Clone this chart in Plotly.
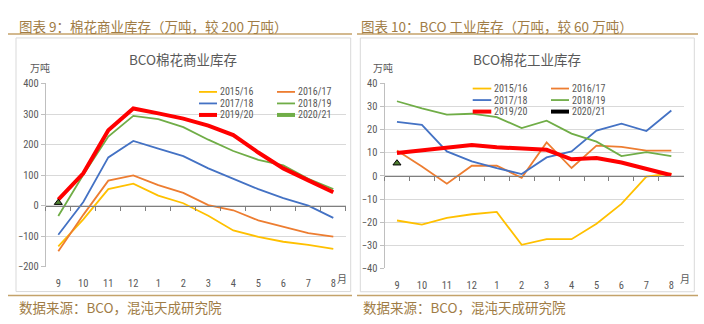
import plotly.graph_objects as go

W, H = 704, 324

months = ["9", "10", "11", "12", "1", "2", "3", "4", "5", "6", "7", "8"]
seasons = ["2015/16", "2016/17", "2017/18", "2018/19", "2019/20", "2020/21"]

# BCO commercial stocks (10k t)
comm_1516 = [-133, -45, 54, 72, 33, 8, -33, -81, -102, -118, -128, -141]
comm_1617 = [-149, -30, 82, 99, 67, 42, 2, -15, -48, -69, -90, -101]
comm_1718 = [-95, 12, 158, 212, 187, 162, 122, 87, 54, 25, 0, -40]
comm_1819 = [-34, 101, 226, 294, 283, 257, 216, 179, 150, 132, 88, 54]
comm_1920 = [20, 106, 247, 318, 302, 285, 262, 231, 174, 122, 83, 44]
comm_2021 = [10]

# BCO mill stocks (10k t)
ind_1516 = [-19.3, -21.1, -18.2, -16.6, -15.6, -29.8, -27.4, -27.4, -20.7, -12.1, -0.3, 1.1]
ind_1617 = [11.0, 4.1, -3.4, 4.4, 4.4, -0.8, 14.5, 3.4, 13.1, 12.6, 10.9, 10.9]
ind_1718 = [23.4, 22.1, 10.6, 6.3, 3.4, 0.8, 8.0, 10.6, 19.6, 22.6, 19.4, 28.3]
ind_1819 = [32.3, 29.2, 26.5, 26.9, 25.4, 20.7, 23.9, 18.3, 14.8, 8.6, 10.3, 8.6]
ind_1920 = [9.9, 11.0, 12.4, 13.4, 12.4, 12.0, 11.3, 7.2, 7.7, 5.8, 3.0, 0.3]
ind_2021 = [5.5]

panel_titles = ["图表 9：棉花商业库存（万吨，较 200 万吨）", "图表 10：BCO 工业库存（万吨，较 60 万吨）"]
chart_titles = ["BCO棉花商业库存", "BCO棉花工业库存"]
source_text = "数据来源：BCO，混沌天成研究院"
unit_text = "万吨"
month_suffix = "月"

YELLOW, ORANGE, BLUE, GREEN, RED = "#FFC000", "#ED7D31", "#4472C4", "#70AD47", "#FF0000"
GOLD_TEXT, GOLD_LINE = "#A07C45", "#C4A26A"
GRAY_TXT, GRID = "#595959", "#D9D9D9"

CJK = "Noto Sans CJK SC"
NARROW = "Liberation Sans Narrow, Arial Narrow, Roboto Condensed, Liberation Sans, sans-serif"


def px(x):
    return x / W


def py(y):
    return 1 - y / H


# plot areas in pixels: (left, right, top, bottom)
areas = [(45.8, 345.8, 80.7, 271.7), (384.5, 683.8, 80.7, 273.3)]
yranges = [(-200, 400), (-40, 40)]
ydticks = [100, 10]

fig = go.Figure()

styles = [
    (YELLOW, 1.8), (ORANGE, 1.8), (BLUE, 1.8), (GREEN, 1.8), (RED, 4),
]
panel_data = [
    [comm_1516, comm_1617, comm_1718, comm_1819, comm_1920],
    [ind_1516, ind_1617, ind_1718, ind_1819, ind_1920],
]
single_pts = [comm_2021, ind_2021]

for p in range(2):
    xa = "x" if p == 0 else "x2"
    ya = "y" if p == 0 else "y2"
    for name, vals, (col, lw) in zip(seasons[:5], panel_data[p], styles):
        fig.add_trace(go.Scatter(
            x=months[:len(vals)], y=vals, mode="lines", name=name,
            line=dict(color=col, width=lw), xaxis=xa, yaxis=ya, showlegend=False,
        ))
    fig.add_trace(go.Scatter(
        x=months[:len(single_pts[p])], y=single_pts[p], mode="markers", name=seasons[5],
        marker=dict(symbol="triangle-up", size=7, color="#4F7F30",
                    line=dict(color="#000000", width=1)),
        xaxis=xa, yaxis=ya, showlegend=False,
    ))
    # carrier trace for the zero-crossing category axis
    fig.add_trace(go.Scatter(
        x=months, y=[None] * len(months), mode="lines", showlegend=False,
        hoverinfo="skip", xaxis="x3" if p == 0 else "x4", yaxis=ya,
    ))

layout_axes = {}
for p in range(2):
    l, r, t, b = areas[p]
    y0, y1 = yranges[p]
    xdom = [px(l), px(r)]
    ydom = [py(b), py(t)]
    sfx = "" if p == 0 else "2"
    layout_axes["xaxis" + sfx] = dict(
        domain=xdom, anchor="y" + sfx, type="category", categoryorder="array",
        categoryarray=months, range=[-0.5, 11.5], showline=False, showgrid=False,
        zeroline=False, ticks="outside", ticklen=7, tickcolor="rgba(0,0,0,0)",
        tickfont=dict(family=NARROW, size=10.5, color=GRAY_TXT), fixedrange=True,
    )
    layout_axes["yaxis" + sfx] = dict(
        domain=ydom, anchor="x" + sfx, range=[y0, y1], dtick=ydticks[p],
        showline=True, linecolor="#BFBFBF", linewidth=1, ticks="outside",
        ticklen=4, tickcolor="#BFBFBF", showgrid=True, gridcolor=GRID,
        gridwidth=1.3, zeroline=False,
        tickfont=dict(family=NARROW, size=10.5, color=GRAY_TXT), fixedrange=True,
    )
    zero_pos = ydom[0] + (0 - y0) / (y1 - y0) * (ydom[1] - ydom[0])
    layout_axes["xaxis" + ("3" if p == 0 else "4")] = dict(
        overlaying="x" + sfx, anchor="free", position=zero_pos, side="bottom",
        type="category", categoryorder="array", categoryarray=months,
        range=[-0.5, 11.5], showline=True, linecolor="#7F7F7F", linewidth=1,
        ticks="outside", tickson="boundaries", ticklen=4, tickcolor="#7F7F7F",
        showticklabels=False, showgrid=False, zeroline=False, fixedrange=True,
    )

shapes = []
annotations = []

# panel frames, gold rules, headings and source lines
frames = [(16, 350.7, 33.3, 297.5), (360.3, 694.3, 33.3, 297.7)]
rules = [(8, 352), (357, 698)]
text_x0 = [17, 359]
for p in range(2):
    fl, fr, ft, fb = frames[p]
    shapes.append(dict(type="rect", xref="paper", yref="paper",
                       x0=px(fl), x1=px(fr), y0=py(fb), y1=py(ft),
                       line=dict(color=GRID, width=1), fillcolor="rgba(0,0,0,0)"))
    for ry in (29.3, 301.7):
        shapes.append(dict(type="line", xref="paper", yref="paper",
                           x0=px(rules[p][0]), x1=px(rules[p][1]), y0=py(ry), y1=py(ry),
                           line=dict(color=GOLD_LINE, width=1.5)))
    annotations.append(dict(text=panel_titles[p], xref="paper", yref="paper",
                            x=px(text_x0[p]), y=py(20.5), xanchor="left", yanchor="middle",
                            showarrow=False, font=dict(family=CJK, size=13.5, color=GOLD_TEXT)))
    annotations.append(dict(text=source_text, xref="paper", yref="paper",
                            x=px(text_x0[p] + (0 if p == 0 else 2)), y=py(313.5),
                            xanchor="left", yanchor="middle", showarrow=False,
                            font=dict(family=CJK, size=13.5, color=GOLD_TEXT)))
    annotations.append(dict(text=chart_titles[p], xref="paper", yref="paper",
                            x=px((fl + fr) / 2), y=py(55), xanchor="center", yanchor="middle",
                            showarrow=False, font=dict(family=CJK, size=13.5, color=GRAY_TXT)))

# unit labels and month suffix
for ux, mx in ((39.5, 341.5), (382.5, 684.5)):
    annotations.append(dict(text=unit_text, xref="paper", yref="paper", x=px(ux), y=py(64),
                            xanchor="center", yanchor="middle", showarrow=False,
                            font=dict(family=CJK, size=10, color=GRAY_TXT)))
    annotations.append(dict(text=month_suffix, xref="paper", yref="paper", x=px(mx), y=py(284),
                            xanchor="center", yanchor="middle", showarrow=False,
                            font=dict(family=CJK, size=10, color=GRAY_TXT)))

# two-column legends
legend_colors = [
    [YELLOW, ORANGE, BLUE, GREEN, RED, GREEN],
    [YELLOW, ORANGE, BLUE, GREEN, RED, "#000000"],
]
legend_widths = [1.8, 1.8, 1.8, 1.8, 4, 4]
legend_rows = [(89.5, 101.5, 113.5), (86, 98, 110)]
legend_cols = [((199, 217, 219), (277, 295, 297)), ((472.7, 491.3, 493), (551, 569, 571))]
for p in range(2):
    for i, name in enumerate(seasons):
        row, col = divmod(i, 2)
        yy = legend_rows[p][row]
        lx0, lx1, tx = legend_cols[p][col]
        shapes.append(dict(type="line", xref="paper", yref="paper",
                           x0=px(lx0), x1=px(lx1), y0=py(yy), y1=py(yy),
                           line=dict(color=legend_colors[p][i], width=legend_widths[i])))
        annotations.append(dict(text=name, xref="paper", yref="paper", x=px(tx), y=py(yy),
                                xanchor="left", yanchor="middle", showarrow=False,
                                borderpad=0,
                                font=dict(family=NARROW, size=10, color=GRAY_TXT)))

fig.update_layout(
    width=W, height=H, margin=dict(l=0, r=0, t=0, b=0),
    paper_bgcolor="white", plot_bgcolor="white", showlegend=False,
    shapes=shapes, annotations=annotations, **layout_axes,
)

fig.write_html("out.html", config={"displayModeBar": False})
